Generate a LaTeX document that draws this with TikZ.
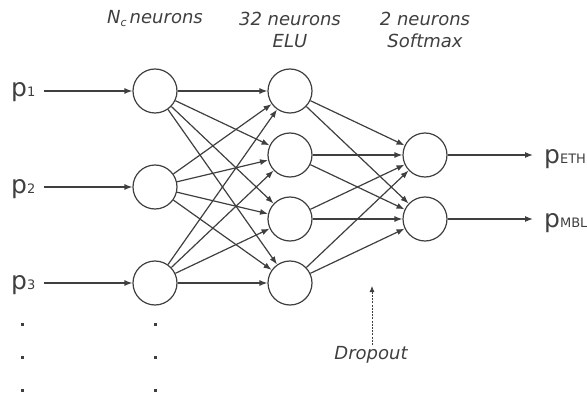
\documentclass[tikz,border=0pt]{standalone}
\usepackage{fontspec}
\setmainfont{DejaVu Sans}
\usetikzlibrary{arrows.meta}
\definecolor{ink}{HTML}{3F3F3F}
\tikzset{
  neuron/.style={circle, draw=ink, line width=1.2pt, minimum size=44pt, inner sep=0pt, fill=white},
  conn/.style={draw=ink, line width=1.2pt, -{Latex[length=8pt,width=6pt]}},
  heading/.style={font=\fontsize{18}{22}\selectfont\itshape, text=ink, align=center, inner sep=0pt},
  plabel/.style={text=ink, inner sep=0pt, anchor=base west},
  dotmark/.style={fill=ink, minimum size=3pt, inner sep=0pt, draw=none, rectangle},
}
\newcommand{\plab}[1]{{\fontsize{25}{25}\selectfont p}{\fontsize{13}{13}\selectfont #1}}
\begin{document}
\begin{tikzpicture}[x=1pt,y=-1pt]
\useasboundingbox (0,0) rectangle (587,396);

% column headings
\node[heading] (h1) at (155,18.5) {N\raisebox{-3pt}{\fontsize{11}{11}\selectfont c}\,neurons};
\node[heading] (h2) at (290,30) {32 neurons\\ELU};
\node[heading] (h3) at (425,30) {2 neurons\\Softmax};

% input layer
\node[neuron] (a1) at (155,91) {};
\node[neuron] (a2) at (155,187) {};
\node[neuron] (a3) at (155,283) {};

% hidden layer
\node[neuron] (b1) at (290,91) {};
\node[neuron] (b2) at (290,155) {};
\node[neuron] (b3) at (290,219) {};
\node[neuron] (b4) at (290,283) {};

% output layer
\node[neuron] (c1) at (425,155) {};
\node[neuron] (c2) at (425,219) {};

% input labels
\node[plabel] (p1) at (11,97) {\plab{1}};
\node[plabel] (p2) at (11,193) {\plab{2}};
\node[plabel] (p3) at (11,289) {\plab{3}};
\coordinate (i1) at (44,91);
\coordinate (i2) at (44,187);
\coordinate (i3) at (44,283);
\draw[conn] (i1) -- (a1);
\draw[conn] (i2) -- (a2);
\draw[conn] (i3) -- (a3);

% dense connections
\foreach \s in {a1,a2,a3}
  \foreach \t in {b1,b2,b3,b4}
    \draw[conn] (\s) -- (\t);
\foreach \s in {b1,b2,b3,b4}
  \foreach \t in {c1,c2}
    \draw[conn] (\s) -- (\t);

% outputs
\coordinate (o1) at (533,155);
\coordinate (o2) at (533,219);
\draw[conn] (c1) -- (o1);
\draw[conn] (c2) -- (o2);
\node[plabel] (pe) at (544,163) {\plab{ETH}};
\node[plabel] (pm) at (544,227) {\plab{MBL}};

% continuation dots
\foreach \y [count=\i] in {324,357,390} {
  \node[dotmark] (dl\i) at (22,\y) {};
  \node[dotmark] (dr\i) at (155,\y) {};
}

% dropout annotation
\node[heading] (drop) at (371,355) {Dropout};
\coordinate (dbase) at (372,345);
\coordinate (dtip) at (372,286);
\draw[draw=ink, line width=0.8pt, dash pattern=on 2pt off 1.2pt, -{Latex[length=6pt,width=5pt]}] (dbase) -- (dtip);
\end{tikzpicture}
\end{document}
